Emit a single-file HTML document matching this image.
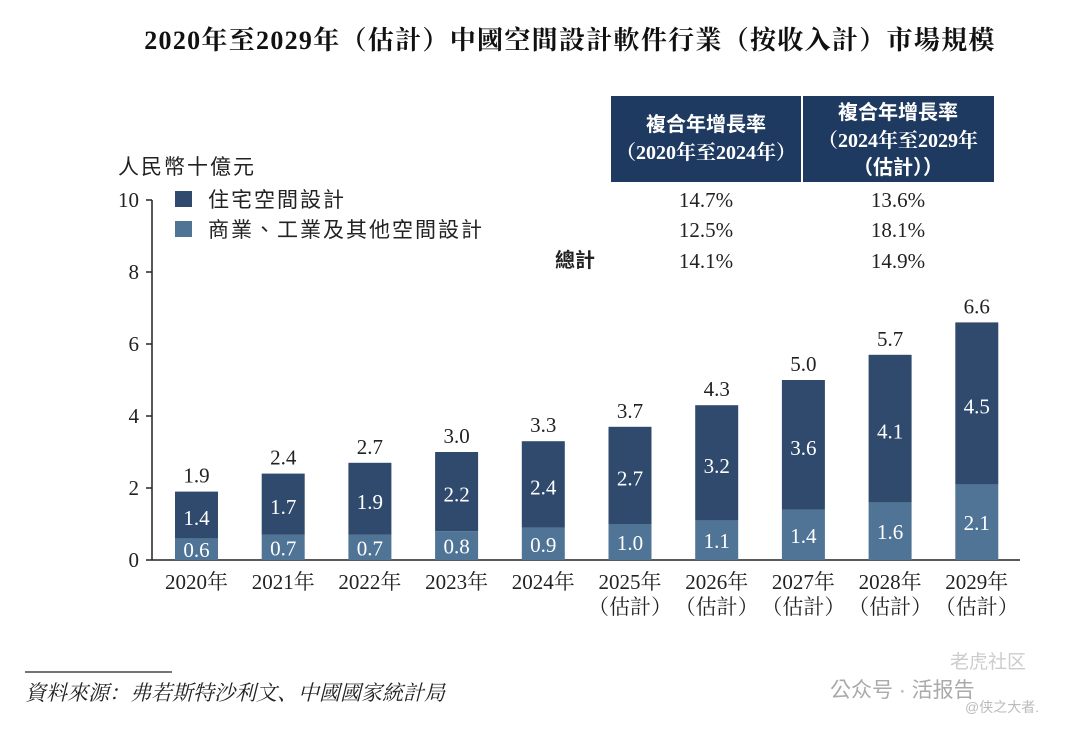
<!DOCTYPE html>
<html><head><meta charset="utf-8"><style>
body{margin:0;background:#fff;width:1080px;height:731px;overflow:hidden;font-family:"Liberation Serif","Noto Serif CJK SC",serif;}
svg text{font-family:"Liberation Serif","Noto Serif CJK SC",serif;}
.sans{font-family:"Liberation Sans","Noto Sans CJK TC",sans-serif;}
</style></head><body>
<svg id="chart" width="1080" height="731">
<text x="570" y="49" text-anchor="middle" font-size="26" font-weight="bold" fill="#111" letter-spacing="1.3">2020年至2029年（估計）中國空間設計軟件行業（按收入計）市場規模</text>
<text x="118" y="174" font-size="21" fill="#222" class="sans" letter-spacing="2">人民幣十億元</text>
<rect x="175" y="191" width="17" height="16" fill="#2f4a6d"/>
<text x="208" y="207" font-size="21" fill="#222" class="sans" letter-spacing="2">住宅空間設計</text>
<rect x="175" y="221" width="17" height="16" fill="#4f7496"/>
<text x="208" y="237" font-size="21" fill="#222" class="sans" letter-spacing="2">商業、工業及其他空間設計</text>
<g>
<rect x="611" y="96" width="383" height="86" fill="#1f3a60"/>
<line x1="802" y1="96" x2="802" y2="182" stroke="#fff" stroke-width="2"/>
<g font-size="20" font-weight="bold" fill="#fff" text-anchor="middle">
<text x="706" y="131" class="sans">複合年增長率</text>
<text x="706" y="159">（2020年至2024年）</text>
<text x="898" y="119" class="sans">複合年增長率</text>
<text x="898" y="147">（2024年至2029年</text>
<text x="898" y="174" class="sans">（估計））</text>
</g>
<g font-size="21" fill="#222" text-anchor="middle">
<text x="706" y="207">14.7%</text><text x="898" y="207">13.6%</text>
<text x="706" y="237">12.5%</text><text x="898" y="237">18.1%</text>
<text x="706" y="268">14.1%</text><text x="898" y="268">14.9%</text>
</g>
<text x="575" y="267" font-size="20" font-weight="bold" fill="#222" text-anchor="middle" class="sans">總計</text>
</g>
<g id="axes"></g>
<g id="bars"></g>
<line x1="25" y1="672" x2="172" y2="672" stroke="#222" stroke-width="1.2"/>
<text x="25" y="700" font-size="21" font-style="italic" fill="#222">資料來源：弗若斯特沙利文、中國國家統計局</text>
<text x="830" y="697" font-size="21" fill="#aaa" class="sans">公众号 · 活报告</text>
<text x="950" y="668" font-size="19" fill="#ccc" class="sans">老虎社区</text>
<text x="965" y="712" font-size="14" fill="#bbb" class="sans">@侠之大者.</text>
</svg>
<script>
const categories=["2020年","2021年","2022年","2023年","2024年","2025年","2026年","2027年","2028年","2029年"];
const estimated=[false,false,false,false,false,true,true,true,true,true];
const commercial=[0.6,0.7,0.7,0.8,0.9,1.0,1.1,1.4,1.6,2.1];
const residential=[1.4,1.7,1.9,2.2,2.4,2.7,3.2,3.6,4.1,4.5];
const totals=[1.9,2.4,2.7,3.0,3.3,3.7,4.3,5.0,5.7,6.6];
const yTicks=[0,2,4,6,8,10];
const NS="http://www.w3.org/2000/svg";
const y0=560,pxPerUnit=36,xStart=175,step=86.7,bw=43;
const yS=v=>y0-v*pxPerUnit;
const xS=i=>xStart+i*step;
function mk(tag,attrs,parent,txt){const e=document.createElementNS(NS,tag);for(const k in attrs)e.setAttribute(k,attrs[k]);if(txt!==undefined)e.textContent=txt;parent.appendChild(e);return e;}
const ax=document.getElementById('axes');
const yl=mk('line',{x1:152,y1:yS(10),x2:152,y2:y0,stroke:'#222','stroke-width':1.5},ax);


const xl=mk('line',{x1:152,y1:y0,x2:1020,y2:y0,stroke:'#222','stroke-width':1.5},ax);


yTicks.forEach(t=>{
  mk('line',{x1:146,y1:yS(t),x2:152,y2:yS(t),stroke:'#222','stroke-width':1.5},ax);
  const tx=mk('text',{x:139,y:yS(t)+7,'font-size':21,fill:'#222','text-anchor':'end'},ax,String(t));
  
  
});
const bg=document.getElementById('bars');
categories.forEach((c,i)=>{
  const x=xS(i),cx=x+bw/2;
  const hc=commercial[i]*pxPerUnit;
  const top=yS(totals[i]);
  const rc=mk('rect',{x:x,y:y0-hc,width:bw,height:hc,fill:'#4f7496'},bg);
  
  
  const rr=mk('rect',{x:x,y:top,width:bw,height:(y0-hc)-top,fill:'#2f4a6d'},bg);
  
  
  const l1=mk('text',{x:cx,y:y0-hc/2+8,'font-size':21,fill:'#fff','text-anchor':'middle'},bg,commercial[i].toFixed(1));
  
  
  const l2=mk('text',{x:cx,y:(top+y0-hc)/2+10,'font-size':21,fill:'#fff','text-anchor':'middle'},bg,residential[i].toFixed(1));
  
  
  const l3=mk('text',{x:cx,y:top-9,'font-size':21,fill:'#222','text-anchor':'middle'},bg,totals[i].toFixed(1));
  
  
  const xt=mk('text',{x:cx,y:589,'font-size':21,fill:'#222','text-anchor':'middle'},bg,c);
  
  
  if(estimated[i]){
    const e=mk('text',{x:cx,y:614,'font-size':21,fill:'#222','text-anchor':'middle'},bg,'（估計）');
    
    
  }
});
</script>
</body></html>
